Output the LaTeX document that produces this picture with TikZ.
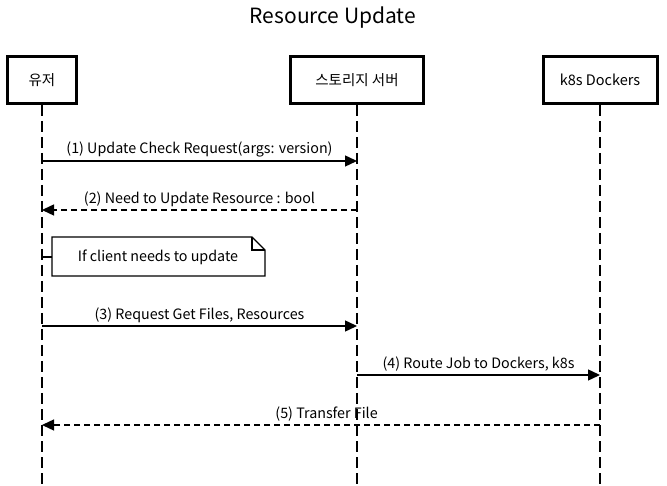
\documentclass[tikz,border=0pt]{standalone}
\usepackage{fontspec}
\setmainfont{Noto Sans CJK KR}
\usetikzlibrary{arrows.meta,shapes.multipart}
\tikzset{
  actor/.style={draw, line width=3pt, minimum height=47pt, inner sep=0pt, font=\fontsize{14.5}{16}\selectfont},
  life/.style={line width=1.3pt, dash pattern=on 11pt off 5pt},
  msg/.style={line width=1.4pt, -{Triangle[length=12pt,width=11pt]}},
  ret/.style={msg, dash pattern=on 6pt off 4pt},
  lbl/.style={font=\fontsize{14.3}{16}\selectfont, inner sep=1pt},
  notebox/.style={line width=1.1pt},
}
\begin{document}
\begin{tikzpicture}[x=1pt,y=-1pt]
\useasboundingbox (0,0) rectangle (667,486);
\node[font=\fontsize{21}{24}\selectfont] (title) at (333,18) {Resource Update};
% actors
\node[actor, minimum width=69pt] (u) at (42,80) {유저};
\node[actor, minimum width=133pt] (s) at (357,80) {스토리지 서버};
\node[actor, minimum width=114pt] (k) at (600,80) {k8s Dockers};
\coordinate (ue) at (42,486);
\coordinate (se) at (357,486);
\coordinate (ke) at (600,486);
\draw[life] (u.south) -- (ue);
\draw[life] (s.south) -- (se);
\draw[life] (k.south) -- (ke);
% message anchors
\coordinate (u1) at (42,161); \coordinate (s1) at (357,161);
\coordinate (u2) at (42,210); \coordinate (s2) at (357,210);
\coordinate (u3) at (42,326); \coordinate (s3) at (357,326);
\coordinate (s4) at (357,375); \coordinate (k4) at (600,375);
\coordinate (u5) at (42,425); \coordinate (k5) at (600,425);
\draw[msg] (u1) -- node[lbl, above=2pt] {(1) Update Check Request(args: version)} (s1);
\draw[ret] (s2) -- node[lbl, above=2pt] {(2) Need to Update Resource : bool} (u2);
\draw[msg] (u3) -- node[lbl, above=2pt] {(3) Request Get Files, Resources} (s3);
\draw[msg] (s4) -- node[lbl, above=2pt] {(4) Route Job to Dockers, k8s} (k4);
\draw[ret] (k5) -- node[lbl, above=2pt, pos=0.49] {(5) Transfer File} (u5);
% note
\coordinate (n1) at (52,237);
\coordinate (n2) at (252,237);
\coordinate (n3) at (265,250);
\coordinate (n4) at (265,276);
\coordinate (n5) at (52,276);
\coordinate (nc) at (252,250);
\draw[notebox, fill=white] (n1) -- (n2) -- (n3) -- (n4) -- (n5) -- cycle;
\draw[notebox] (n2) -- (nc) -- (n3);
\node[lbl] (nt) at (158,257) {If client needs to update};
\coordinate (ul) at (42,257);
\coordinate (nl) at (52,257);
\draw[notebox] (ul) -- (nl);
\end{tikzpicture}
\end{document}
